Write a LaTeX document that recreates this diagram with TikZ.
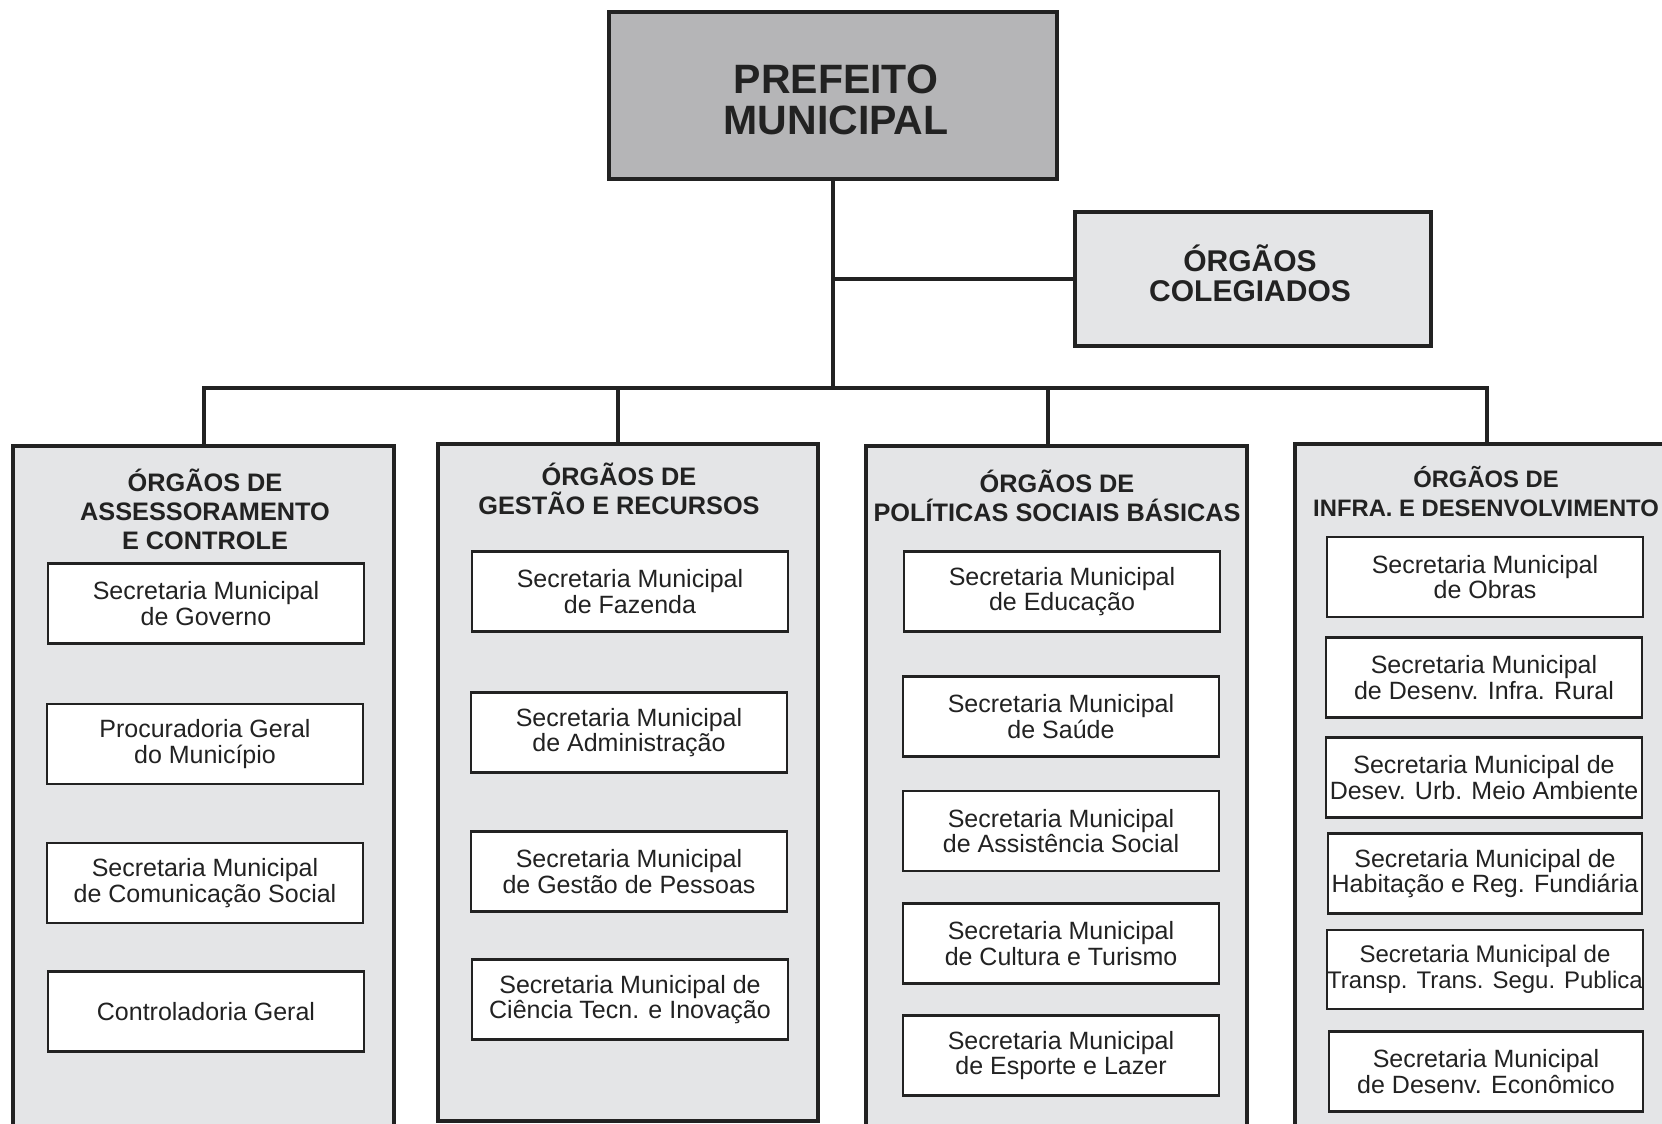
\documentclass[tikz,border=0pt]{standalone}
\usepackage{fontspec}
\setmainfont{Liberation Sans}
\definecolor{inkc}{HTML}{222222}
\definecolor{darkfill}{HTML}{B5B5B7}
\definecolor{lightfill}{HTML}{E4E5E7}
\begin{document}
\begin{tikzpicture}[x=1pt,y=-1pt,
  conn/.style={draw=inkc,line width=4pt},
  bigbox/.style={draw=inkc,line width=4pt,rectangle,inner sep=0pt},
  colbox/.style={draw=inkc,line width=4pt,fill=lightfill,rectangle,inner sep=0pt},
  sbox/.style={draw=inkc,line width=2.5pt,fill=white,rectangle,inner sep=0pt,
    minimum width=316pt,minimum height=80pt,align=center,text=inkc,
    font=\fontsize{25}{25.6}\selectfont},
  head/.style={align=center,text=inkc,inner sep=0pt,
    font=\bfseries\fontsize{25.3}{29}\selectfont}]
\useasboundingbox[fill=white] (0,0) rectangle (1662,1124);

% top
\node[bigbox,fill=darkfill,minimum width=448pt,minimum height=167pt] (pref) at (833,95.5) {};
\node[align=center,text=inkc,inner sep=0pt,font=\bfseries\fontsize{41}{41.5}\selectfont]
  (preft) at (836,100) {PREFEITO\\MUNICIPAL};
\node[bigbox,fill=lightfill,minimum width=356pt,minimum height=134pt] (coleg) at (1253,279) {};
\node[align=center,text=inkc,inner sep=0pt,font=\bfseries\fontsize{30}{30}\selectfont]
  (colegt) at (1250,273) {ÓRGÃOS\\COLEGIADOS};

% columns
\begin{scope}
\clip (0,0) rectangle (1662,1124);
\node[colbox,minimum width=381pt,minimum height=700pt] (c1) at (203.5,796) {};
\node[colbox,minimum width=380pt,minimum height=677pt] (c2) at (628,782.5) {};
\node[colbox,minimum width=381pt,minimum height=700pt] (c3) at (1056.5,796) {};
\node[colbox,minimum width=400pt,minimum height=700pt] (c4) at (1495,794) {};
\end{scope}

% connectors
\coordinate (d1) at (204,388);
\coordinate (d2) at (618,388);
\coordinate (d3) at (1048,388);
\coordinate (d4) at (1487,388);
\draw[conn] (pref.south) -- (pref.south |- d1);
\draw[conn] (pref.south |- coleg.west) -- (coleg.west);
\draw[conn,line cap=rect] (d1) -- (d4);
\draw[conn] (d1) -- (d1 |- c1.north);
\draw[conn] (d2) -- (d2 |- c2.north);
\draw[conn] (d3) -- (d3 |- c3.north);
\draw[conn] (d4) -- (d4 |- c4.north);

% headers
\node[head] (h1) at (205,509) {ÓRGÃOS DE\\ASSESSORAMENTO\\E CONTROLE};
\node[head] (h2) at (619,489) {ÓRGÃOS DE\\GESTÃO E RECURSOS};
\node[head] (h3) at (1057,496) {ÓRGÃOS DE\\POLÍTICAS SOCIAIS BÁSICAS};
\node[head,font=\bfseries\fontsize{23.8}{29}\selectfont] (h4) at (1486,492) {ÓRGÃOS DE\\INFRA. E DESENVOLVIMENTO};

% column 1
\node[sbox] (a1) at (206,603.5) {Secretaria Municipal\\de Governo};
\node[sbox] (a2) at (205,744) {Procuradoria Geral\\do Município};
\node[sbox] (a3) at (205,883) {Secretaria Municipal\\de Comunicação Social};
\node[sbox] (a4) at (206,1011.5) {Controladoria Geral};

% column 2
\node[sbox] (b1) at (630,591.5) {Secretaria Municipal\\de Fazenda};
\node[sbox] (b2) at (629,732.5) {Secretaria Municipal\\de Administração};
\node[sbox] (b3) at (629,871.5) {Secretaria Municipal\\de Gestão de Pessoas};
\node[sbox] (b4) at (630,999.5) {Secretaria Municipal de\\Ciência Tecn. e Inovação};

% column 3
\node[sbox] (e1) at (1062,591.5) {Secretaria Municipal\\de Educação};
\node[sbox] (e2) at (1061,716.5) {Secretaria Municipal\\de Saúde};
\node[sbox] (e3) at (1061,831) {Secretaria Municipal\\de Assistência Social};
\node[sbox] (e4) at (1061,943.5) {Secretaria Municipal\\de Cultura e Turismo};
\node[sbox] (e5) at (1061,1055.5) {Secretaria Municipal\\de Esporte e Lazer};

% column 4
\node[sbox] (f1) at (1485,577) {Secretaria Municipal\\de Obras};
\node[sbox] (f2) at (1484,677.5) {Secretaria Municipal\\de Desenv. Infra. Rural};
\node[sbox] (f3) at (1484,777.5) {Secretaria Municipal de\\Desev. Urb. Meio Ambiente};
\node[sbox,minimum width=314pt] (f4) at (1485,873.5) {Secretaria Municipal de\\Habitação e Reg. Fundiária};
\node[sbox,minimum width=314pt,minimum height=79pt,font=\fontsize{24}{25.6}\selectfont] (f5) at (1485,969.5) {Secretaria Municipal de\\Transp. Trans. Segu. Publica};
\node[sbox,minimum width=314pt] (f6) at (1486,1071.5) {Secretaria Municipal\\de Desenv. Econômico};
\end{tikzpicture}
\end{document}
